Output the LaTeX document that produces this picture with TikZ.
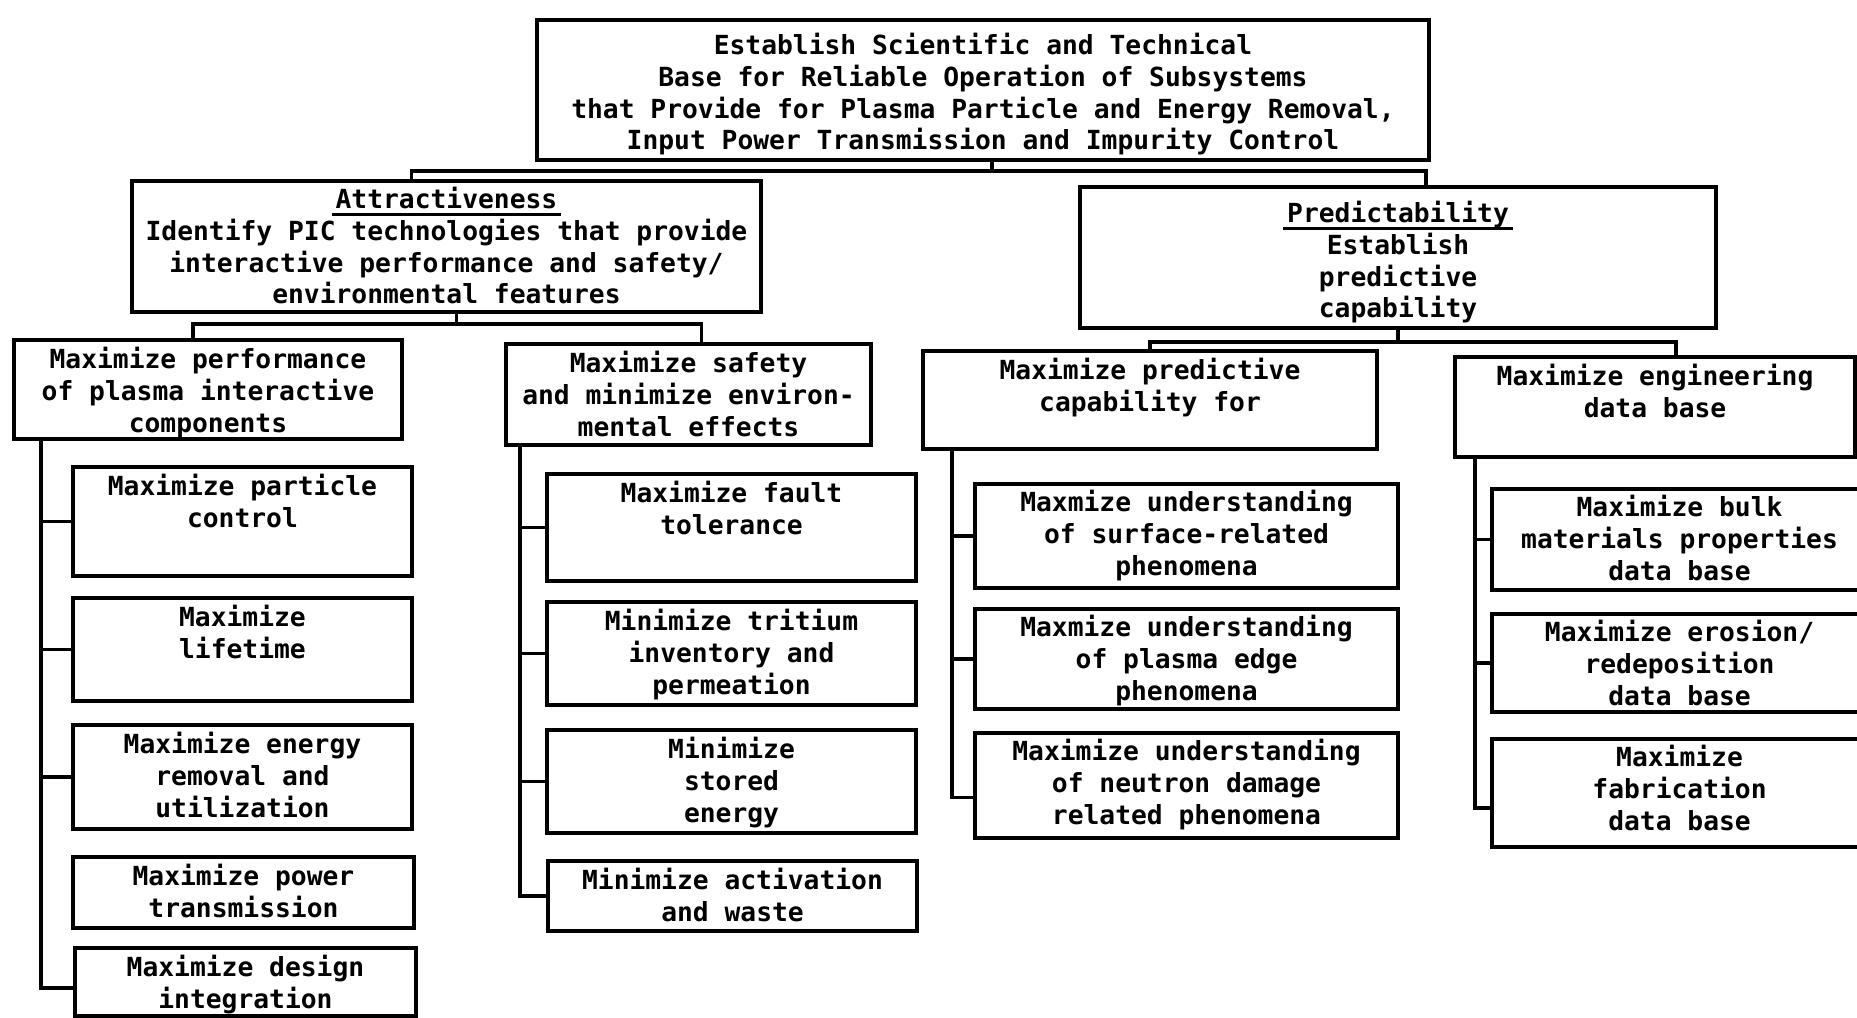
\documentclass[tikz,border=0pt]{standalone}
\usepackage{fontspec}
\usepackage{tikz}
\usetikzlibrary{positioning}
\newfontfamily\chartfont{DejaVu Sans Mono}
\newcommand\undl[1]{\setbox0\hbox{#1}\leavevmode\rlap{\kern-4pt\rule[-7pt]{\dimexpr\wd0+8pt\relax}{2.6pt}}\box0}

\begin{document}
\begin{tikzpicture}[x=1pt, y=-1pt,
    box/.style={draw, line width=4pt, anchor=north west, inner sep=0pt},
    lbl/.style={align=center, inner sep=0pt, font=\chartfont\bfseries\fontsize{26.3}{31.8}\selectfont},
    link/.style={line width=3.6pt}]
    \useasboundingbox (0,0) rectangle (1857,1017);

    % Overall goal
    \node[box, minimum width=892pt, minimum height=140pt] (top) at (535,18) {};
    \node[lbl, below=15pt of top.north] (topt) {Establish Scientific and Technical\\Base for Reliable Operation of Subsystems\\that Provide for Plasma Particle and Energy Removal,\\Input Power Transmission and Impurity Control};

    % Attractiveness and predictability
    \node[box, minimum width=629pt, minimum height=131pt] (attr) at (130,179) {};
    \node[lbl, below=8pt of attr.north] (attrt) {\undl{Attractiveness}\\Identify PIC technologies that provide\\interactive performance and safety/\\environmental features};
    \node[box, minimum width=636pt, minimum height=141pt] (pred) at (1078,185) {};
    \node[lbl, below=16pt of pred.north] (predt) {\undl{Predictability}\\Establish\\predictive\\capability};

    % Second level
    \node[box, minimum width=388pt, minimum height=99pt] (a1) at (12,338) {};
    \node[lbl, below=9pt of a1.north] (a1t) {Maximize performance\\of plasma interactive\\components};
    \node[box, minimum width=365pt, minimum height=101pt] (a2) at (504,342) {};
    \node[lbl, below=9pt of a2.north] (a2t) {Maximize safety\\and minimize environ-\\mental effects};
    \node[box, minimum width=454pt, minimum height=98pt] (p1) at (921,349) {};
    \node[lbl, below=9pt of p1.north] (p1t) {Maximize predictive\\capability for};
    \node[box, minimum width=400pt, minimum height=100pt] (p2) at (1453,355) {};
    \node[lbl, below=9pt of p2.north] (p2t) {Maximize engineering\\data base};

    % Leaves under performance
    \node[box, minimum width=339pt, minimum height=109pt] (c1) at (71,465) {};
    \node[lbl, below=9pt of c1.north] (c1t) {Maximize particle\\control};
    \node[box, minimum width=339pt, minimum height=103pt] (c2) at (71,596) {};
    \node[lbl, below=9pt of c2.north] (c2t) {Maximize\\lifetime};
    \node[box, minimum width=339pt, minimum height=104pt] (c3) at (71,723) {};
    \node[lbl, below=9pt of c3.north] (c3t) {Maximize energy\\removal and\\utilization};
    \node[box, minimum width=341pt, minimum height=71pt] (c4) at (71,855) {};
    \node[lbl, below=9pt of c4.north] (c4t) {Maximize power\\transmission};
    \node[box, minimum width=341pt, minimum height=68pt] (c5) at (73,946) {};
    \node[lbl, below=9pt of c5.north] (c5t) {Maximize design\\integration};

    % Leaves under safety
    \node[box, minimum width=369pt, minimum height=107pt] (d1) at (545,472) {};
    \node[lbl, below=9pt of d1.north] (d1t) {Maximize fault\\tolerance};
    \node[box, minimum width=369pt, minimum height=103pt] (d2) at (545,600) {};
    \node[lbl, below=9pt of d2.north] (d2t) {Minimize tritium\\inventory and\\permeation};
    \node[box, minimum width=369pt, minimum height=103pt] (d3) at (545,728) {};
    \node[lbl, below=9pt of d3.north] (d3t) {Minimize\\stored\\energy};
    \node[box, minimum width=369pt, minimum height=70pt] (d4) at (546,859) {};
    \node[lbl, below=9pt of d4.north] (d4t) {Minimize activation\\and waste};

    % Leaves under predictive capability
    \node[box, minimum width=423pt, minimum height=104pt] (e1) at (973,482) {};
    \node[lbl, below=8pt of e1.north] (e1t) {Maxmize understanding\\of surface-related\\phenomena};
    \node[box, minimum width=423pt, minimum height=100pt] (e2) at (973,607) {};
    \node[lbl, below=8pt of e2.north] (e2t) {Maxmize understanding\\of plasma edge\\phenomena};
    \node[box, minimum width=423pt, minimum height=105pt] (e3) at (973,731) {};
    \node[lbl, below=8pt of e3.north] (e3t) {Maximize understanding\\of neutron damage\\related phenomena};

    % Leaves under engineering data base
    \node[box, minimum width=375pt, minimum height=101pt] (f1) at (1490,487) {};
    \node[lbl, below=8pt of f1.north] (f1t) {Maximize bulk\\materials properties\\data base};
    \node[box, minimum width=375pt, minimum height=98pt] (f2) at (1490,612) {};
    \node[lbl, below=8pt of f2.north] (f2t) {Maximize erosion/\\redeposition\\data base};
    \node[box, minimum width=375pt, minimum height=108pt] (f3) at (1490,737) {};
    \node[lbl, below=8pt of f3.north] (f3t) {Maximize\\fabrication\\data base};

    % Tree connectors
    \draw[link] ([xshift=9pt]top.south) -- ++(0,9) coordinate (topbar);
    \draw[link] ([xshift=-35pt]attr.north) |- (topbar) -| ([xshift=28pt]pred.north);
    \draw[link] ([xshift=10pt]attr.south) -- ++(0,10) coordinate (attrbar);
    \draw[link] ([xshift=-15pt]a1.north) |- (attrbar) -| ([xshift=13pt]a2.north);
    \draw[link] (pred.south) -- ++(0,12) coordinate (predbar);
    \draw[link] (p1.north) |- (predbar) -| ([xshift=21pt]p2.north);

    % Trunks and ticks
    \coordinate (a1trunk) at ([xshift=29pt]a1.south west);
    \coordinate (a2trunk) at ([xshift=16pt]a2.south west);
    \coordinate (p1trunk) at ([xshift=31pt]p1.south west);
    \coordinate (p2trunk) at ([xshift=22pt]p2.south west);
    \draw[link] (a1trunk) |- ([yshift=-6pt]c5.west);
    \draw[link] (a2trunk) |- (d4.west);
    \draw[link] (p1trunk) |- ([yshift=-12pt]e3.west);
    \draw[link] (p2trunk) |- ([yshift=-15pt]f3.west);
    \foreach \nm in {c1,c2,c3} \draw[link] (\nm.west) -- (\nm.west -| a1trunk);
    \foreach \nm in {d1,d2,d3} \draw[link] (\nm.west) -- (\nm.west -| a2trunk);
    \foreach \nm in {e1,e2} \draw[link] (\nm.west) -- (\nm.west -| p1trunk);
    \foreach \nm in {f1,f2} \draw[link] (\nm.west) -- (\nm.west -| p2trunk);
\end{tikzpicture}
\end{document}
